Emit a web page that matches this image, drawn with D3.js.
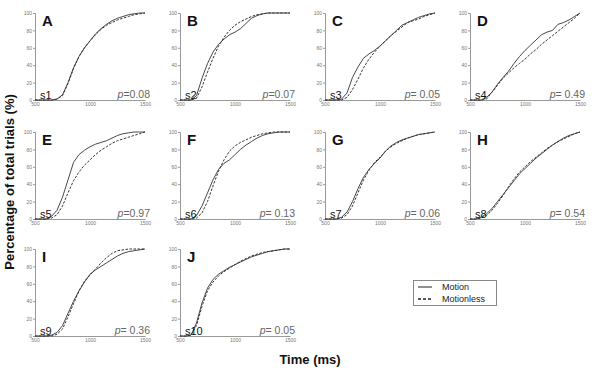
<!DOCTYPE html>
<html><head><meta charset="utf-8">
<script src="https://cdn.jsdelivr.net/npm/d3@7"></script>
<style>
html,body{margin:0;padding:0;background:#fff;}
svg{display:block;font-family:"Liberation Sans",Arial,sans-serif;}
</style></head>
<body><svg id="chart" width="593" height="370"></svg>
<script>
const times = [500,550,600,650,700,750,800,850,900,950,1000,1050,1100,1150,1200,1250,1300,1350,1400,1450,1500];
const panelLetters = ["A","B","C","D","E","F","G","H","I","J"];
const subjects = ["s1","s2","s3","s4","s5","s6","s7","s8","s9","s10"];
const pLabels = ["=0.08","=0.07","= 0.05","= 0.49","=0.97","= 0.13","= 0.06","= 0.54","= 0.36","= 0.05"];
const motion = [
  [0,0,0,0,1,6,20,37,50,60,68,76,82,87,91,94,96,98,99,100,100],
  [0,0,0,5,25,42,55,64,70,75,78,82,88,94,97,99,100,100,100,100,100],
  [0,0,0,1,8,26,38,48,53,57,62,68,74,80,86,89,92,95,97,99,100],
  [0,0,0,3,9,18,26,33,42,50,57,63,69,75,78,80,87,89,92,96,100],
  [0,0,0,3,10,25,45,65,74,79,83,86,88,90,93,96,98,99,100,100,100],
  [0,0,0,4,15,30,45,57,64,68,74,80,85,89,93,96,98,99,100,100,100],
  [0,0,0,2,8,20,35,48,57,64,70,78,84,88,91,93,95,97,98,99,100],
  [0,0,2,6,12,20,28,36,44,52,58,64,70,75,80,85,89,93,96,98,100],
  [0,0,0,1,4,12,26,40,52,62,71,76,80,84,88,92,95,97,98,99,100],
  [0,0,1,15,38,55,65,71,75,79,82,85,88,91,93,95,97,98,99,100,100]
];
const motionless = [
  [0,0,0,0,1,5,19,36,50,60,68,75,81,86,89,92,94,96,98,99,100],
  [0,0,0,2,15,32,48,62,72,80,86,90,93,96,98,99,100,100,100,100,100],
  [0,0,0,0,3,12,24,37,47,55,62,68,74,79,84,89,91,93,96,98,100],
  [0,0,0,1,9,17,25,31,37,42,47,53,58,64,69,74,79,84,89,94,100],
  [0,0,0,1,5,15,30,44,54,62,68,74,79,83,87,90,92,94,96,98,100],
  [0,0,0,1,7,20,38,55,68,78,84,88,91,94,96,98,99,100,100,100,100],
  [0,0,0,1,5,15,30,45,56,65,71,78,83,87,90,93,95,97,98,99,100],
  [0,0,1,4,10,18,27,37,46,54,60,66,71,76,81,85,89,92,95,98,100],
  [0,0,0,0,2,8,22,37,52,63,70,77,84,90,95,98,99,100,100,100,100],
  [0,0,1,12,34,52,62,69,74,78,82,86,89,92,94,96,97,98,99,100,100]
];
const xTicks = [500,1000,1500];
const yTicks = [0,20,40,60,80,100];
const legendLabels = ["Motion","Motionless"];

const svg = d3.select("#chart");
const colX = [35,180,325,470], rowTop = [13,132,249];
const W = 110, H = 87;
const axisColor = "#999", tickText = "#777";

panelLetters.forEach((L,i)=>{
  const r = Math.floor(i/4), c = i%4;
  const g = svg.append("g").attr("transform",`translate(${colX[c]},${rowTop[r]})`);
  const x = d3.scaleLinear().domain([500,1500]).range([0,W]);
  const y = d3.scaleLinear().domain([0,100]).range([H,0]);
  const xa = g.append("g").attr("transform",`translate(0,${H})`)
    .call(d3.axisBottom(x).tickValues(xTicks).tickFormat(d3.format("d")).tickSize(0).tickPadding(2));
  const ya = g.append("g").call(d3.axisLeft(y).tickValues(yTicks).tickFormat(d3.format("d")).tickSize(2).tickPadding(1));
  [xa,ya].forEach(a=>{
    a.select(".domain").attr("stroke",axisColor).attr("stroke-width",1);
    a.selectAll(".tick line").attr("stroke",axisColor);
    a.selectAll("text").attr("fill",tickText).style("font-size","5px").style("font-family","Liberation Sans, Arial");
  });
  const line = d3.line().x((d,j)=>x(times[j])).y(d=>y(d));
  g.append("path").datum(motionless[i]).attr("d",line).attr("fill","none")
    .attr("stroke","#333").attr("stroke-width",1).attr("stroke-dasharray","2.5,1.5");
  g.append("path").datum(motion[i]).attr("d",line).attr("fill","none")
    .attr("stroke","#333").attr("stroke-width",0.9);
  g.append("text").attr("x",7).attr("y",13).text(L)
    .style("font-size","15px").style("font-weight","bold").attr("fill","#111");
  g.append("text").attr("x",5).attr("y",H-1.5).text(subjects[i])
    .style("font-size","11px").attr("fill","#111");
  const pt = g.append("text").attr("x",W+5).attr("y",H-2).attr("text-anchor","end")
    .style("font-size","10.5px").attr("fill","#666");
  pt.append("tspan").style("font-style","italic").text("p");
  pt.append("tspan").text(pLabels[i]);
});

// axis titles
svg.append("text").attr("transform","translate(14,182) rotate(-90)").attr("text-anchor","middle")
  .style("font-size","13px").style("font-weight","bold").attr("fill","#111")
  .text("Percentage of total trials (%)");
svg.append("text").attr("x",310).attr("y",364).attr("text-anchor","middle")
  .style("font-size","13px").style("font-weight","bold").attr("fill","#111")
  .text("Time (ms)");

// legend
const lg = svg.append("g");
lg.append("rect").attr("x",413.5).attr("y",280.5).attr("width",83).attr("height",25)
  .attr("fill","#fff").attr("stroke","#888");
legendLabels.forEach((t,k)=>{
  const yy = 287 + k*12;
  lg.append("line").attr("x1",418).attr("x2",432).attr("y1",yy).attr("y2",yy)
    .attr("stroke","#222").attr("stroke-width",k?1.5:1).attr("stroke-dasharray",k?"3,2":null);
  lg.append("text").attr("x",442).attr("y",yy+3).text(t).style("font-size","9px").attr("fill","#222");
});
</script></body></html>
